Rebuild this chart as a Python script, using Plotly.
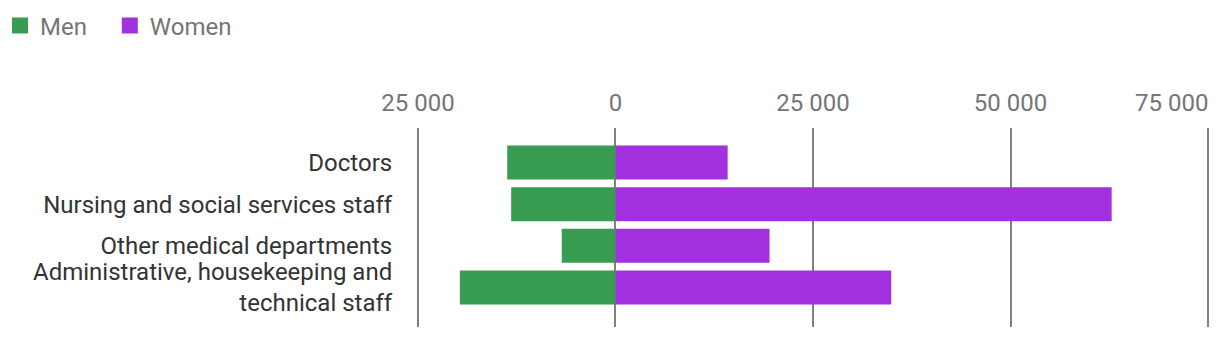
import plotly.graph_objects as go

categories = ["Doctors", "Nursing and social services staff", "Other medical departments",
              "Administrative, housekeeping and<br>technical staff"]
men = [13700, 13200, 6800, 19700]
women = [14200, 62800, 19500, 34900]
tick_vals = [-25000, 0, 25000, 50000, 75000]
tick_text = ["25 000", "0", "25 000", "50 000", "75 000"]

GREEN = "#399d51"
PURPLE = "#a230de"
FONT = "Roboto"

fig = go.Figure()
fig.add_trace(go.Bar(y=categories, x=[-v for v in men], orientation="h", name="Men",
                     legendgroup="m", showlegend=False,
                     marker=dict(color=GREEN, line=dict(width=0))))
fig.add_trace(go.Bar(y=categories, x=women, orientation="h", name="Women",
                     legendgroup="w", showlegend=False,
                     marker=dict(color=PURPLE, line=dict(width=0))))
# legend entries with larger square swatches (one legend box each, to control spacing)
for name, col, grp, leg in [("Men", GREEN, "m", "legend"), ("Women", PURPLE, "w", "legend2")]:
    fig.add_trace(go.Scatter(x=[None], y=[None], mode="markers", name=name, legendgroup=grp,
                             legend=leg, marker=dict(symbol="square", size=16, color=col),
                             hoverinfo="skip"))

# last tick label is drawn right-aligned so it stays inside the page
fig.add_annotation(x=tick_vals[-1], xref="x", y=1, yref="paper", yanchor="bottom",
                   xanchor="right", yshift=9, xshift=2, text=tick_text[-1], showarrow=False,
                   font=dict(family=FONT, size=24, color="#757575"))

legend_style = dict(orientation="h", xref="container", yref="container", y=0.99,
                    xanchor="left", yanchor="top", font=dict(color="#757575", size=24),
                    itemwidth=30)

fig.update_layout(
    width=1220, height=340,
    margin=dict(l=414, r=8, t=128, b=13),
    barmode="relative",
    bargap=0.183,
    paper_bgcolor="white", plot_bgcolor="white",
    font=dict(family=FONT, size=24, color="#333333"),
    showlegend=True,
    legend=dict(x=0, **legend_style),
    legend2=dict(x=0.09, **legend_style),
    xaxis=dict(side="top", range=[-25500, 75500], tickvals=tick_vals,
               ticktext=tick_text[:-1] + [""],
               showgrid=True, gridcolor="#808080", gridwidth=2, zeroline=False,
               ticks="outside", ticklen=6, tickcolor="rgba(0,0,0,0)",
               tickfont=dict(color="#757575", size=24), showline=False, fixedrange=True),
    yaxis=dict(type="category", categoryorder="array", categoryarray=categories,
               range=[3.952, -0.832], showgrid=False, zeroline=False, showline=False,
               ticks="outside", ticklen=16, tickcolor="rgba(0,0,0,0)",
               tickfont=dict(color="#333333", size=24)),
)

fig.write_html("out.html")
